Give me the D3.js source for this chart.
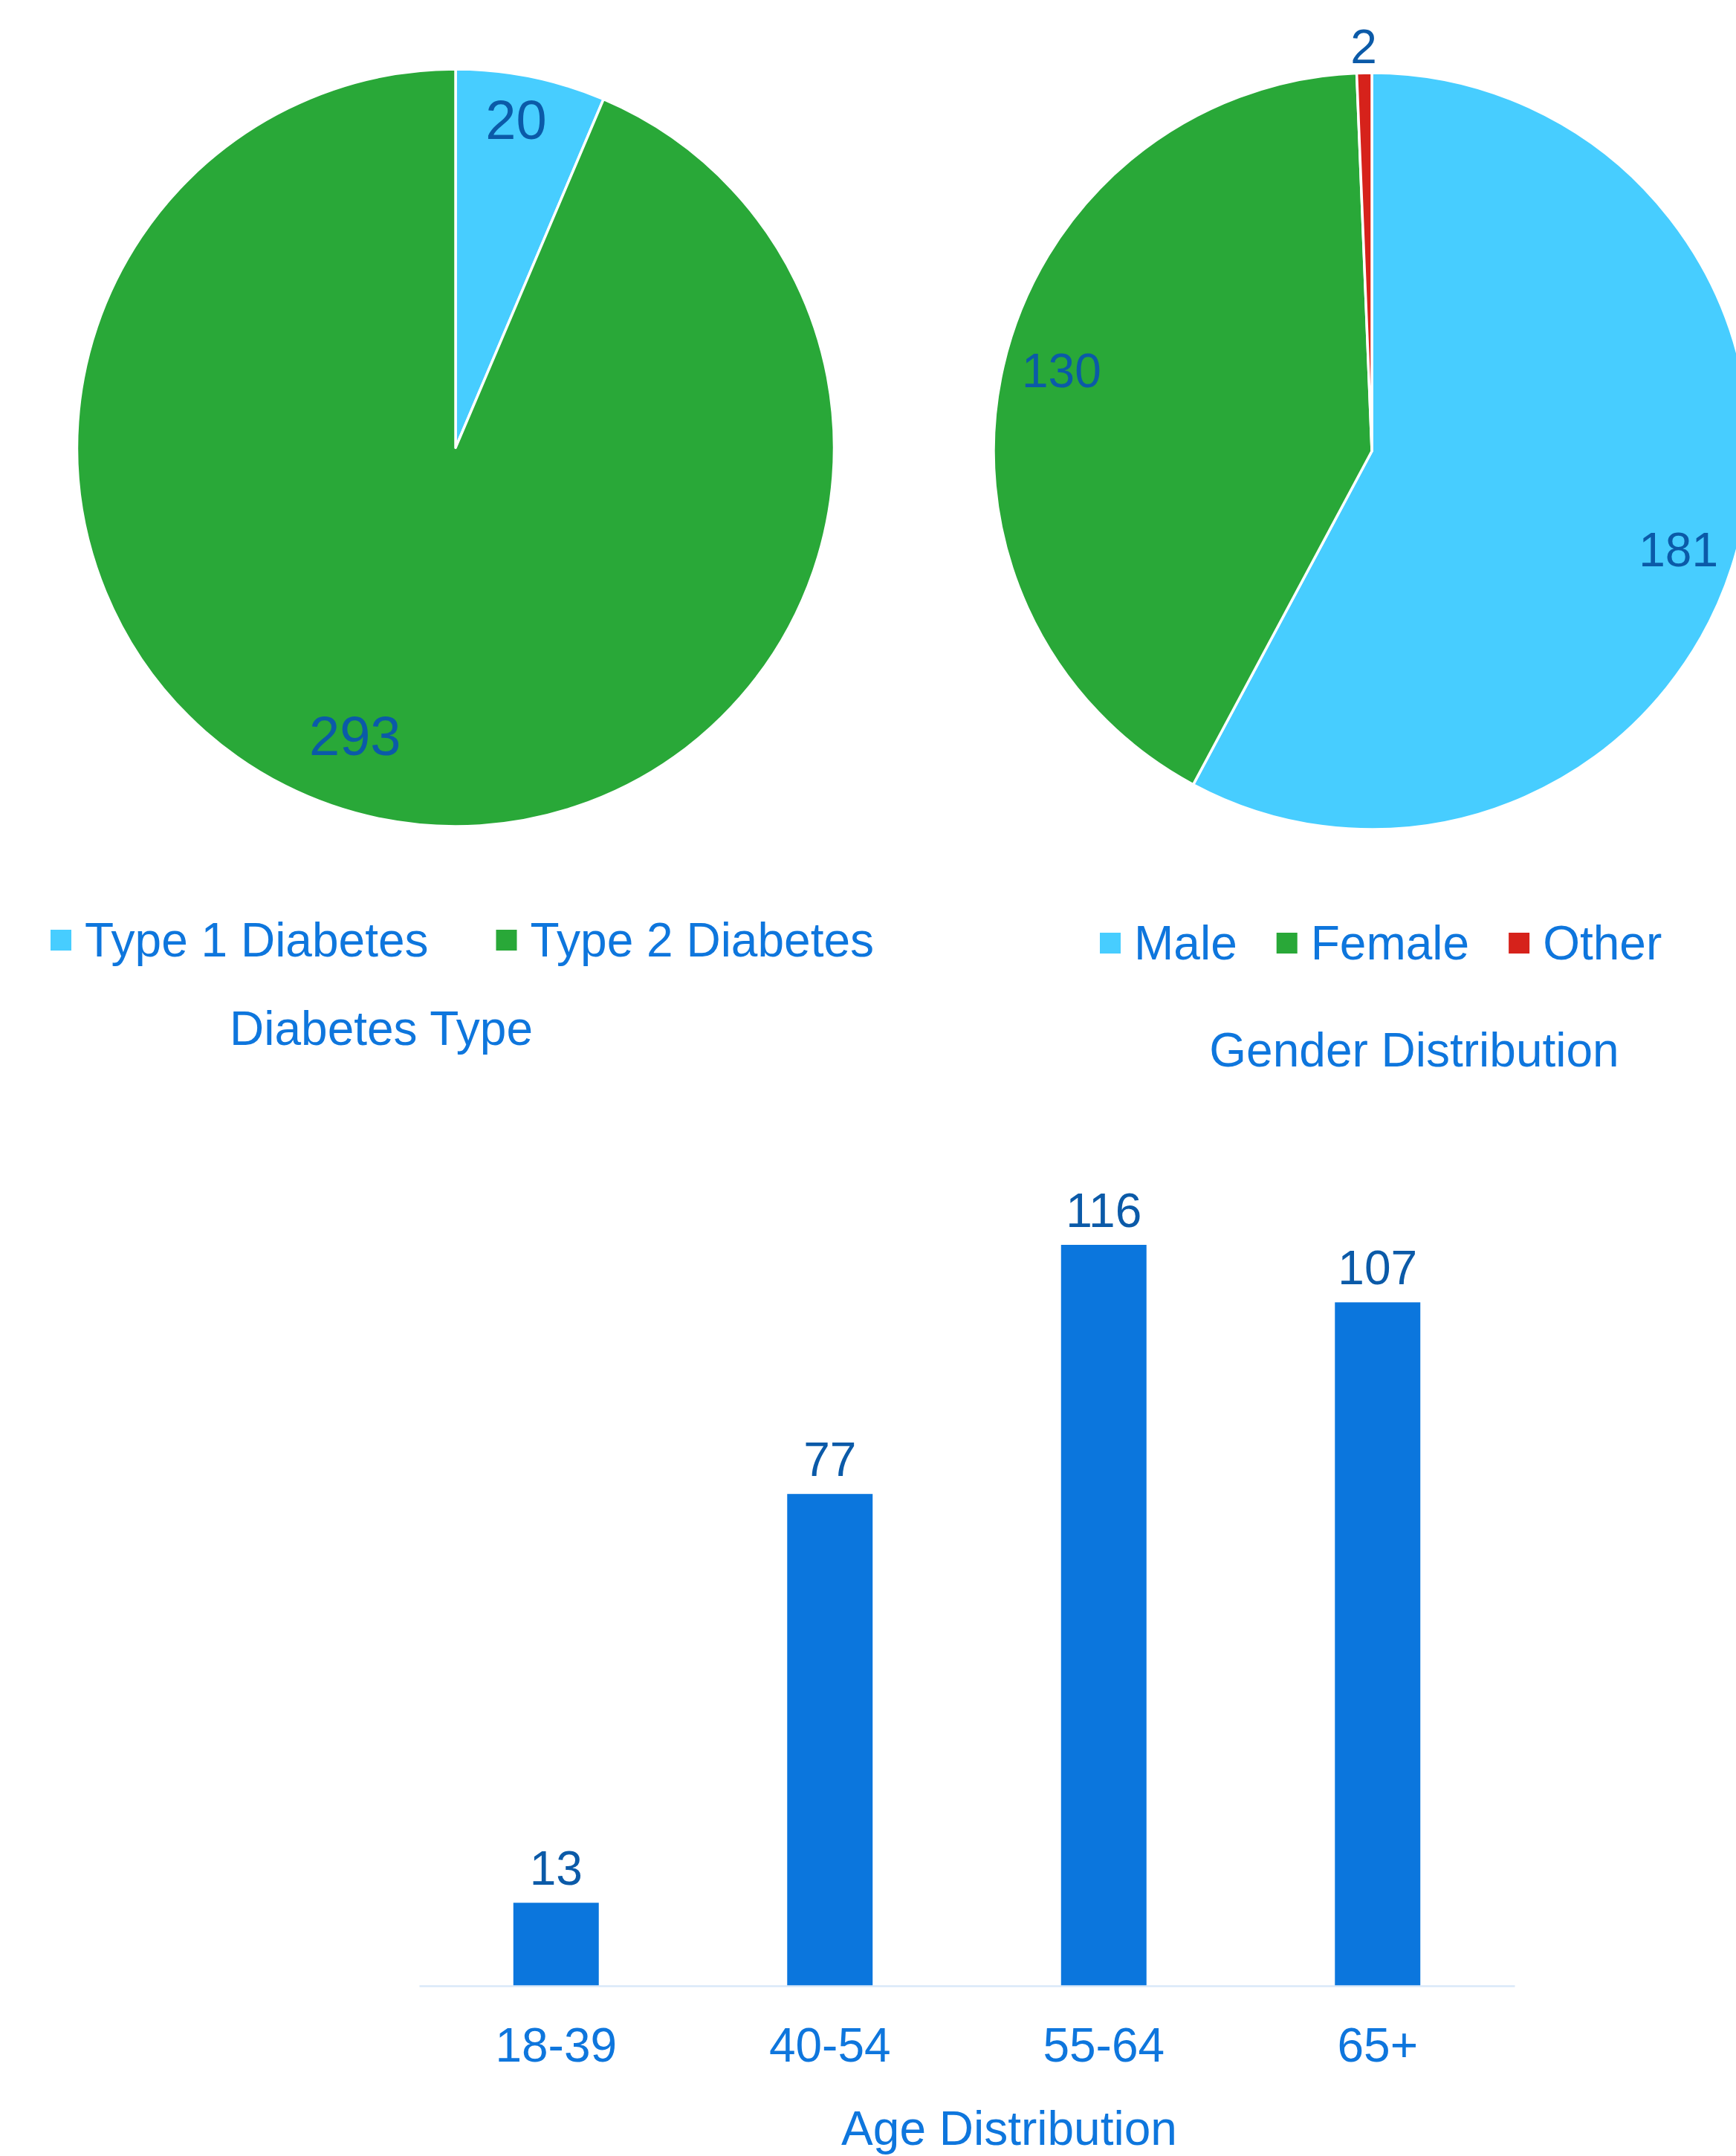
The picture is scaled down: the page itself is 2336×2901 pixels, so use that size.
<!DOCTYPE html>
<html>
<head>
<meta charset="utf-8">
<script src="https://cdn.jsdelivr.net/npm/d3@7"></script>
<style>
  html, body { margin: 0; padding: 0; background: #ffffff; overflow: hidden; }
  svg { display: block; font-family: "Liberation Sans", Arial, sans-serif; }
</style>
</head>
<body>
<svg id="chart" width="2336" height="2901"></svg>
<script>
// ---- data ----
const diabetesTypes = ["Type 1 Diabetes", "Type 2 Diabetes"];
const diabetesCounts = [20, 293];
const genders = ["Male", "Female", "Other"];
const genderCounts = [181, 130, 2];
const ageGroups = ["18-39", "40-54", "55-64", "65+"];
const ageCounts = [13, 77, 116, 107];
const titles = ["Diabetes Type", "Gender Distribution", "Age Distribution"];

// ---- styles ----
const sliceColors = ["#47CDFF", "#29A838", "#D6221B"];
const labelColor = "#0B5AA8";
const textColor = "#0E76DD";
const barColor = "#0B76DD";
const axisColor = "#DAE8F8";

const svg = d3.select("#chart");

function drawPie(cfg) {
  const g = svg.append("g").attr("transform", `translate(${cfg.cx},${cfg.cy})`);
  const data = cfg.names.map((n, i) => ({ name: n, value: cfg.values[i], idx: i }));
  const total = d3.sum(cfg.values);
  const pie = d3.pie().value(d => d.value).sort(null);
  const arcs = pie(data);
  const arc = d3.arc().innerRadius(0).outerRadius(cfg.r);

  g.selectAll("path.slice").data(arcs).join("path")
    .attr("class", "slice")
    .attr("d", arc)
    .attr("fill", d => sliceColors[d.data.idx])
    .attr("stroke", "#ffffff")
    .attr("stroke-width", 3.5)
    .attr("stroke-linejoin", "round");

  g.selectAll("text.lab").data(arcs).join("text")
    .attr("class", "lab")
    .each(function(d) {
      const frac = d.value / total;
      const mid = (d.startAngle + d.endAngle) / 2;
      const k = frac < 0.03 ? cfg.outsideK : (cfg.insideK[d.data.idx] ?? 0.85);
      const rr = cfg.r * k;
      const shift = cfg.labelShift[d.data.idx] || [0, 0];
      const x = Math.sin(mid) * rr + shift[0];
      const y = -Math.cos(mid) * rr + shift[1];
      d3.select(this)
        .attr("x", x)
        .attr("y", y + 0.358 * cfg.labelSize)
        .attr("text-anchor", "middle")
        .attr("font-size", cfg.labelSize)
        .attr("fill", labelColor)
        .text(d.value);
    });

  // legend
  const lg = svg.append("g");
  let x = cfg.legendX;
  cfg.names.forEach((n, i) => {
    lg.append("rect")
      .attr("x", x).attr("y", cfg.legendY - 14)
      .attr("width", 28).attr("height", 28)
      .attr("fill", sliceColors[i]);
    const t = lg.append("text")
      .attr("x", x + 46).attr("y", cfg.legendY + 22)
      .attr("font-size", 64)
      .attr("fill", textColor)
      .text(n);
    x += 46 + t.node().getComputedTextLength() + cfg.legendGap;
  });

  svg.append("text")
    .attr("x", cfg.titleX).attr("y", cfg.titleY)
    .attr("text-anchor", "middle")
    .attr("font-size", 64)
    .attr("fill", textColor)
    .text(cfg.title);
}

drawPie({
  names: diabetesTypes, values: diabetesCounts,
  cx: 613, cy: 602.5, r: 509.5,
  labelSize: 74, insideK: [0.88, 0.80], outsideK: 1.07,
  labelShift: [[-8, -3], [-54, -12]],
  legendX: 68, legendY: 1265, legendGap: 91,
  titleX: 513, titleY: 1406, title: titles[0]
});

drawPie({
  names: genders, values: genderCounts,
  cx: 1846, cy: 607, r: 509,
  labelSize: 64, insideK: [0.85, 0.85, 0.85], outsideK: 1.07,
  labelShift: [[-7, 27], [4, -12], [0, 0]],
  legendX: 1480, legendY: 1269, legendGap: 53,
  titleX: 1903, titleY: 1435, title: titles[1]
});

// ---- bar chart ----
const baseY = 2672;
const x = d3.scaleBand().domain(ageGroups).range([564, 2038])
  .paddingInner(0.688).paddingOuter(0.344);
const y = d3.scaleLinear().domain([0, d3.max(ageCounts)]).range([baseY, 1675]);

const bars = svg.append("g");
bars.selectAll("rect").data(ageCounts).join("rect")
  .attr("x", (d, i) => x(ageGroups[i]))
  .attr("y", d => y(d))
  .attr("width", x.bandwidth())
  .attr("height", d => baseY - y(d))
  .attr("fill", barColor);

bars.selectAll("text").data(ageCounts).join("text")
  .attr("x", (d, i) => x(ageGroups[i]) + x.bandwidth() / 2)
  .attr("y", d => y(d) - 24)
  .attr("text-anchor", "middle")
  .attr("font-size", 64)
  .attr("fill", labelColor)
  .text(d => d);

const axis = svg.append("g")
  .attr("transform", `translate(0,${baseY})`)
  .call(d3.axisBottom(x).tickSize(0).tickSizeOuter(0));
axis.select(".domain").attr("stroke", axisColor).attr("stroke-width", 2.5);
axis.selectAll(".tick text")
  .attr("y", 102).attr("dy", null)
  .attr("font-size", 64)
  .attr("font-family", "Liberation Sans, Arial, sans-serif")
  .attr("fill", textColor);

svg.append("text")
  .attr("x", 1358).attr("y", 2886)
  .attr("text-anchor", "middle")
  .attr("font-size", 64)
  .attr("fill", textColor)
  .text(titles[2]);
</script>
</body>
</html>
